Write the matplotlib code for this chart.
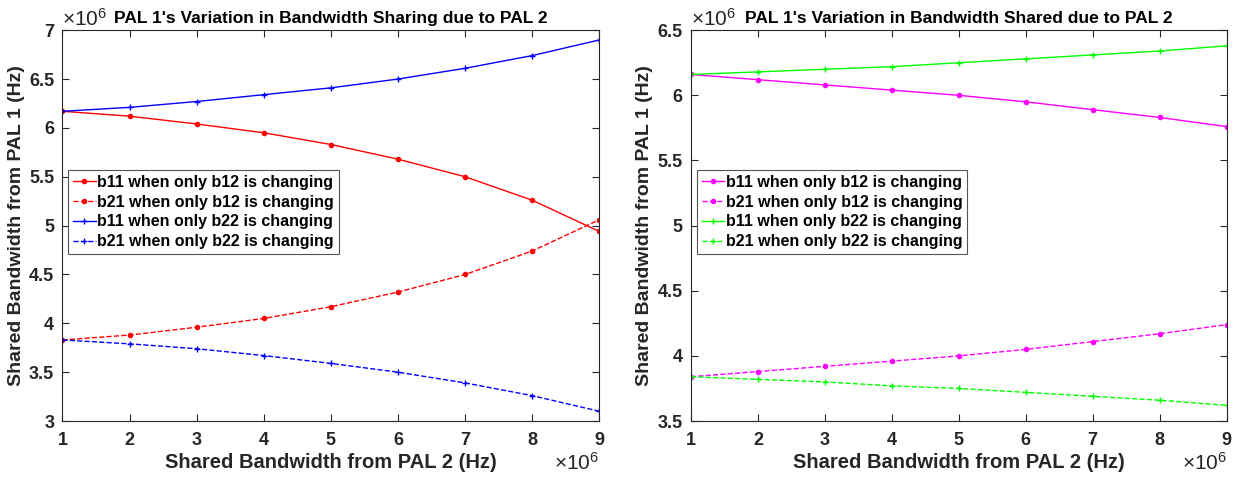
import numpy as np
import matplotlib
matplotlib.use("Agg")
import matplotlib.pyplot as plt
from matplotlib.ticker import FuncFormatter, MultipleLocator

plt.rcParams['font.family'] = ['Liberation Sans', 'DejaVu Sans']
plt.rcParams['font.weight'] = 'bold'
plt.rcParams['mathtext.fontset'] = 'custom'
plt.rcParams['mathtext.rm'] = 'Liberation Sans:normal'
plt.rcParams['mathtext.it'] = 'Liberation Sans:normal'

# shared bandwidth from PAL 2 (Hz)
b_pal2 = np.array([1, 2, 3, 4, 5, 6, 7, 8, 9]) * 1e6

# left panel: bandwidth sharing
b11_b12_sharing = np.array([6.17, 6.12, 6.04, 5.95, 5.83, 5.68, 5.50, 5.26, 4.94]) * 1e6
b21_b12_sharing = np.array([3.83, 3.88, 3.96, 4.05, 4.17, 4.32, 4.50, 4.74, 5.06]) * 1e6
b11_b22_sharing = np.array([6.17, 6.21, 6.27, 6.34, 6.41, 6.50, 6.61, 6.74, 6.90]) * 1e6
b21_b22_sharing = np.array([3.83, 3.79, 3.74, 3.67, 3.59, 3.50, 3.39, 3.26, 3.10]) * 1e6

# right panel: bandwidth shared
b11_b12_shared = np.array([6.16, 6.12, 6.08, 6.04, 6.00, 5.95, 5.89, 5.83, 5.76]) * 1e6
b21_b12_shared = np.array([3.84, 3.88, 3.92, 3.96, 4.00, 4.05, 4.11, 4.17, 4.24]) * 1e6
b11_b22_shared = np.array([6.16, 6.18, 6.20, 6.22, 6.25, 6.28, 6.31, 6.34, 6.38]) * 1e6
b21_b22_shared = np.array([3.84, 3.82, 3.80, 3.77, 3.75, 3.72, 3.69, 3.66, 3.62]) * 1e6

labels = ["b11 when only b12 is changing", "b21 when only b12 is changing",
          "b11 when only b22 is changing", "b21 when only b22 is changing"]

fig = plt.figure(figsize=(12.37, 4.79), dpi=100)
ax1 = fig.add_axes([0.0505, 0.121, 0.434, 0.816])
ax2 = fig.add_axes([0.5586, 0.121, 0.433, 0.816])

fmt = FuncFormatter(lambda v, p: f"{v/1e6:g}")
dark = '#262626'


def style(ax, ylo, yhi, title):
    ax.set_xlim(1e6, 9e6)
    ax.set_ylim(ylo, yhi)
    ax.xaxis.set_major_locator(MultipleLocator(1e6))
    ax.yaxis.set_major_locator(MultipleLocator(0.5e6))
    ax.xaxis.set_major_formatter(fmt)
    ax.yaxis.set_major_formatter(fmt)
    ax.tick_params(direction='in', top=True, right=True, labelsize=13,
                   colors=dark, length=5, width=0.8)
    ax.tick_params(axis='x', pad=8)
    ax.tick_params(axis='y', pad=6)
    for s in ax.spines.values():
        s.set_color(dark)
        s.set_linewidth(0.8)
    ax.set_xlabel("Shared Bandwidth from PAL 2 (Hz)", fontsize=14.5, fontweight='bold',
                  color=dark, labelpad=3)
    ax.set_ylabel("Shared Bandwidth from PAL 1 (Hz)", fontsize=14, fontweight='bold',
                  color=dark, labelpad=3)
    ax.set_title(title, fontsize=12.5, fontweight='bold', pad=5)
    ax.text(0.0, 1.0, r"$\times 10^{6}$", transform=ax.transAxes, fontsize=15,
            ha='left', va='bottom', color=dark)
    ax.text(1.0, -0.08, r"$\times 10^{6}$", transform=ax.transAxes, fontsize=15,
            ha='right', va='top', color=dark)
    leg = ax.legend(loc='upper left', bbox_to_anchor=(0.011, 0.642), fontsize=11.5,
                    handlelength=1.4, handletextpad=0.1, borderpad=0.3,
                    labelspacing=0.3, fancybox=False, framealpha=1,
                    borderaxespad=0)
    leg.get_frame().set_edgecolor('#555555')
    leg.get_frame().set_linewidth(0.8)


ax1.plot(b_pal2, b11_b12_sharing, 'r.-', lw=1, ms=6, label=labels[0])
ax1.plot(b_pal2, b21_b12_sharing, 'r.--', lw=1, ms=6, label=labels[1])
ax1.plot(b_pal2, b11_b22_sharing, 'b+-', lw=1, ms=5, label=labels[2])
ax1.plot(b_pal2, b21_b22_sharing, 'b+--', lw=1, ms=5, label=labels[3])
style(ax1, 3e6, 7e6, "PAL 1's Variation in Bandwidth Sharing due to PAL 2")

ax2.plot(b_pal2, b11_b12_shared, '.-', color='#ff00ff', lw=1, ms=6, label=labels[0])
ax2.plot(b_pal2, b21_b12_shared, '.--', color='#ff00ff', lw=1, ms=6, label=labels[1])
ax2.plot(b_pal2, b11_b22_shared, '+-', color='#00ff00', lw=1, ms=5, label=labels[2])
ax2.plot(b_pal2, b21_b22_shared, '+--', color='#00ff00', lw=1, ms=5, label=labels[3])
style(ax2, 3.5e6, 6.5e6, "PAL 1's Variation in Bandwidth Shared due to PAL 2")

fig.savefig("out.png", dpi=100)
